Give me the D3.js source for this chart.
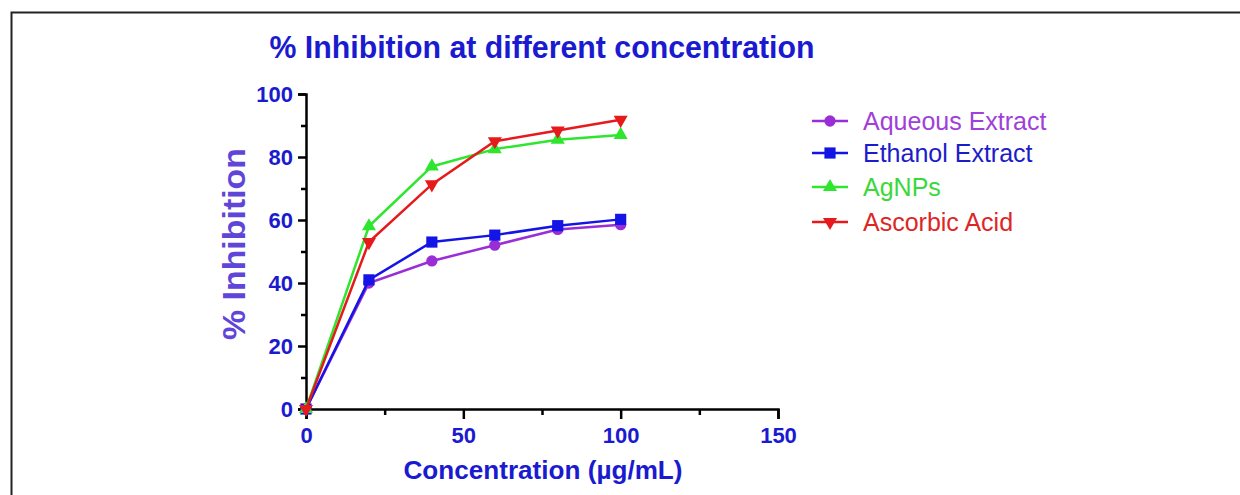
<!DOCTYPE html>
<html>
<head>
<meta charset="utf-8">
<script src="https://cdn.jsdelivr.net/npm/d3@7"></script>
<style>
  body { margin: 0; background: #fff; }
  text { font-family: "Liberation Sans", Arial, sans-serif; }
</style>
</head>
<body>
<svg id="svg" width="1240" height="495"></svg>
<script>
var conc = [0, 20, 40, 60, 80, 100];
var aqueous = [0, 40, 47, 52, 57, 58.5];
var ethanol = [0, 41, 53, 55.2, 58.2, 60.2];
var agnps = [0, 58, 77, 82.5, 85.5, 87];
var ascorbic = [0, 53, 71.3, 85, 88.4, 91.8];
var seriesNames = ["Aqueous Extract", "Ethanol Extract", "AgNPs", "Ascorbic Acid"];
var seriesColors = ["#9a2ed6", "#1414e6", "#2ee62e", "#e61a1a"];
var textColors = ["#a040d8", "#1c1cc8", "#3ad83a", "#dd2626"];
var symbols = ["circle", "square", "triangle", "triangleDown"];
var xTicks = [0, 50, 100, 150];
var yTicks = [0, 20, 40, 60, 80, 100];

var svg = d3.select("#svg");

// frame around the figure
svg.append("rect")
    .attr("x", 11.5).attr("y", 12.5)
    .attr("width", 1260).attr("height", 520)
    .attr("fill", "none")
    .attr("stroke", "#222")
    .attr("stroke-width", 2);

var x = d3.scaleLinear().domain([0, 150]).range([306, 778]);
var y = d3.scaleLinear().domain([0, 100]).range([409, 94]);

// minor ticks
svg.append("g")
    .attr("transform", "translate(0,409)")
    .call(d3.axisBottom(x).tickValues([25, 75, 125]).tickSize(6).tickFormat(""))
    .call(g => g.select(".domain").remove())
    .selectAll("line").attr("stroke", "#000").attr("stroke-width", 2.5);

svg.append("g")
    .attr("transform", "translate(306,0)")
    .call(d3.axisLeft(y).tickValues([10, 30, 50, 70, 90]).tickSize(5).tickFormat(""))
    .call(g => g.select(".domain").remove())
    .selectAll("line").attr("stroke", "#000").attr("stroke-width", 2.5);

var xAxis = svg.append("g")
    .attr("transform", "translate(0,409)")
    .call(d3.axisBottom(x).tickValues(xTicks).tickSize(10).tickSizeOuter(10).tickPadding(8));

var yAxis = svg.append("g")
    .attr("transform", "translate(306,0)")
    .call(d3.axisLeft(y).tickValues(yTicks).tickSize(8).tickSizeOuter(8).tickPadding(5));

[xAxis, yAxis].forEach(function (a) {
    a.select(".domain").attr("stroke", "#000").attr("stroke-width", 2.5);
    a.selectAll(".tick line").attr("stroke", "#000").attr("stroke-width", 2.5);
    a.selectAll(".tick text")
        .attr("fill", "#1a1ad0")
        .style("font-size", "22px")
        .style("font-weight", "bold");
});

// titles
svg.append("text")
    .attr("x", 542).attr("y", 58)
    .attr("text-anchor", "middle")
    .attr("fill", "#1a1ad0")
    .attr("textLength", 545)
    .attr("lengthAdjust", "spacingAndGlyphs")
    .style("font-size", "31px")
    .style("font-weight", "bold")
    .text("% Inhibition at different concentration");

svg.append("text")
    .attr("transform", "translate(245,244) rotate(-90)")
    .attr("text-anchor", "middle")
    .attr("fill", "#5f45d8")
    .attr("textLength", 192)
    .attr("lengthAdjust", "spacingAndGlyphs")
    .style("font-size", "31px")
    .style("font-weight", "bold")
    .text("% Inhibition");

svg.append("text")
    .attr("x", 543).attr("y", 479)
    .attr("text-anchor", "middle")
    .attr("fill", "#1a1ad0")
    .attr("textLength", 279)
    .attr("lengthAdjust", "spacingAndGlyphs")
    .style("font-size", "26px")
    .style("font-weight", "bold")
    .text("Concentration (\u00b5g/mL)");

var symbolTypes = {
    circle: d3.symbol().type(d3.symbolCircle).size(100),
    square: d3.symbol().type(d3.symbolSquare).size(125),
    triangle: d3.symbol().type(d3.symbolTriangle).size(85),
    triangleDown: d3.symbol().type(d3.symbolTriangle).size(85)
};

function markerTransform(sym, px, py) {
    if (sym === "triangleDown") return "translate(" + px + "," + py + ") rotate(180)";
    return "translate(" + px + "," + py + ")";
}

var allSeries = [aqueous, ethanol, agnps, ascorbic];
var line = d3.line().x((d, i) => x(conc[i])).y(d => y(d));

allSeries.forEach(function (vals, k) {
    var g = svg.append("g");
    g.append("path")
        .datum(vals)
        .attr("fill", "none")
        .attr("stroke", seriesColors[k])
        .attr("stroke-width", 2.5)
        .attr("d", line);
    g.selectAll("path.pt")
        .data(vals)
        .enter()
        .append("path")
        .attr("class", "pt")
        .attr("d", symbolTypes[symbols[k]])
        .attr("transform", (d, i) => markerTransform(symbols[k], x(conc[i]), y(d)))
        .attr("fill", seriesColors[k]);
});

// legend
var legendY = [121, 153, 187, 222];
var legend = svg.append("g").attr("transform", "translate(812,0)");
var rows = legend.selectAll("g")
    .data(seriesNames)
    .enter()
    .append("g")
    .attr("transform", (d, i) => "translate(0," + legendY[i] + ")");

rows.append("line")
    .attr("x1", 0).attr("x2", 36)
    .attr("stroke", (d, i) => seriesColors[i])
    .attr("stroke-width", 2.5);

rows.append("path")
    .attr("d", (d, i) => symbolTypes[symbols[i]]())
    .attr("transform", (d, i) => markerTransform(symbols[i], 18, 0))
    .attr("fill", (d, i) => seriesColors[i]);

rows.append("text")
    .attr("x", 51).attr("y", 9)
    .attr("fill", (d, i) => textColors[i])
    .style("font-size", "25px")
    .text(d => d);
</script>
</body>
</html>
